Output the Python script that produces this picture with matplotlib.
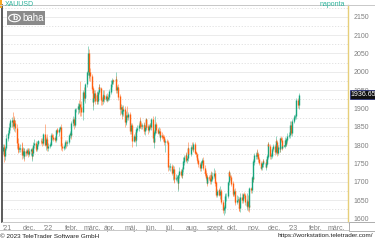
import numpy as np
import pandas as pd
import matplotlib
matplotlib.use('Agg')
import matplotlib.pyplot as plt
import matplotlib.dates as mdates
from matplotlib.patches import FancyBboxPatch, Circle, Rectangle
from matplotlib.lines import Line2D

plt.rcParams['font.family'] = ['Liberation Sans', 'DejaVu Sans']

# XAUUSD daily closes, one list per month (business days)
nov21 = [1793, 1788, 1769, 1792, 1818, 1824, 1832, 1849, 1862, 1864, 1867, 1851, 1868, 1860, 1846, 1805, 1790, 1788, 1790, 1792, 1785, 1774]
dec21 = [1782, 1769, 1783, 1779, 1785, 1783, 1775, 1783, 1787, 1771, 1777, 1799, 1804, 1791, 1789, 1803, 1809, 1811, 1811, 1810, 1805, 1815, 1829]
jan22 = [1801, 1815, 1810, 1791, 1797, 1801, 1821, 1826, 1821, 1817, 1818, 1813, 1841, 1839, 1835, 1843, 1848, 1820, 1797, 1791, 1797]
feb22 = [1801, 1807, 1805, 1808, 1821, 1826, 1833, 1827, 1859, 1870, 1855, 1871, 1898, 1898, 1906, 1898, 1910, 1904, 1889, 1909]
mar22 = [1943, 1928, 1935, 1966, 1998, 2051, 1992, 1998, 1988, 1954, 1918, 1927, 1942, 1921, 1936, 1921, 1944, 1958, 1954, 1922, 1919, 1933, 1937]
apr22 = [1925, 1932, 1923, 1925, 1931, 1946, 1954, 1966, 1977, 1974, 1975, 1979, 1950, 1958, 1951, 1932, 1898, 1904, 1886, 1894, 1897]
may22 = [1863, 1868, 1881, 1876, 1883, 1855, 1838, 1853, 1822, 1811, 1824, 1815, 1816, 1842, 1846, 1853, 1866, 1853, 1851, 1853, 1855, 1837]
jun22 = [1848, 1869, 1850, 1841, 1852, 1853, 1848, 1871, 1819, 1809, 1834, 1857, 1840, 1839, 1833, 1838, 1822, 1827, 1823, 1820, 1818, 1807]
jul22 = [1811, 1808, 1764, 1739, 1740, 1742, 1733, 1725, 1735, 1711, 1708, 1709, 1711, 1696, 1718, 1727, 1719, 1717, 1735, 1755, 1766]
aug22 = [1772, 1760, 1765, 1791, 1775, 1789, 1794, 1792, 1789, 1802, 1779, 1775, 1761, 1758, 1747, 1736, 1748, 1751, 1758, 1737, 1725, 1723, 1711]
sep22 = [1697, 1712, 1710, 1701, 1718, 1708, 1716, 1724, 1702, 1697, 1665, 1675, 1676, 1664, 1673, 1671, 1644, 1622, 1629, 1660, 1660, 1661]
oct22 = [1699, 1725, 1716, 1712, 1695, 1668, 1666, 1673, 1666, 1644, 1650, 1652, 1629, 1627, 1657, 1649, 1652, 1665, 1663, 1645, 1633]
nov22 = [1647, 1635, 1630, 1681, 1676, 1712, 1706, 1755, 1771, 1771, 1777, 1774, 1761, 1751, 1738, 1740, 1749, 1755, 1754, 1741, 1749, 1768]
dec22 = [1803, 1797, 1769, 1771, 1786, 1789, 1797, 1781, 1810, 1807, 1777, 1793, 1788, 1817, 1814, 1792, 1797, 1798, 1813, 1804, 1815, 1824]
jan23 = [1826, 1840, 1855, 1834, 1866, 1872, 1877, 1878, 1898, 1921, 1909, 1936.65]

# upper / lower shadow lengths above and below the body
up_wick = [10, 8, 14, 6, 12, 8, 10, 12, 6, 8, 10, 24, 6, 10, 8, 12, 14, 8, 6, 12, 16, 20,
           12, 10, 8, 6, 8, 6, 10, 8, 6, 8, 14, 10, 12, 8, 6, 8, 6, 4, 4, 8, 8, 6, 4,
           28, 6, 16, 12, 8, 6, 4, 6, 8, 8, 4, 6, 4, 6, 8, 6, 4, 8, 6, 8, 4,
           6, 8, 6, 6, 4, 4, 4, 10, 6, 10, 6, 6, 4, 4, 8, 16, 6, 64, 16, 12,
           8, 14, 6, 4, 4, 20, 10, 22, 12, 6, 8, 24, 8, 8, 12, 8, 6, 8, 8, 4, 10, 6, 12,
           14, 8, 10, 6, 8, 6, 6, 12, 6, 4, 2, 19, 8, 6, 8, 8, 6, 8, 6, 10, 12,
           10, 8, 12, 26, 8, 6, 8, 6, 8, 10, 6, 12, 6, 6, 8, 6, 4, 10, 6, 6, 6, 8,
           6, 4, 6, 6, 4, 6, 8, 4, 8, 6, 6, 22, 6, 6, 8, 10, 8, 4, 8, 6, 6, 4,
           6, 6, 6, 4, 6, 8, 6, 8, 10, 8, 6, 12, 6, 6, 4, 12, 8, 4, 4, 12, 6,
           6, 8, 6, 4, 18, 6, 6, 14, 8, 6, 6, 6, 4, 6, 6, 6, 8, 6, 6, 10, 8, 8, 8,
           6, 6, 6, 10, 8, 12, 10, 12, 8, 6, 6, 6, 4, 6, 16, 8, 6, 6, 8, 6, 8, 8,
           4, 4, 6, 6, 6, 6, 8, 6, 10, 8, 14, 8, 6, 8, 12, 12, 6, 4, 6, 6, 8,
           22, 16, 6, 4, 4, 4, 14, 6, 8, 10, 10, 12, 6, 6, 6, 10, 6, 6, 6, 8, 14, 8,
           4, 4, 6, 8, 4, 6, 6, 6, 14, 6, 6, 6, 6, 4, 8, 8, 6, 2, 10, 6, 4, 8,
           10, 10, 10, 10, 4, 10, 6, 8, 10, 6, 8, 6]
down_wick = [8, 10, 16, 10, 6, 6, 8, 6, 8, 10, 14, 8, 12, 8, 10, 14, 8, 10, 8, 8, 10, 12,
             10, 12, 8, 8, 6, 8, 8, 6, 10, 10, 14, 6, 6, 8, 6, 6, 6, 4, 4, 6, 8, 6, 6,
             4, 14, 6, 6, 8, 6, 4, 8, 6, 6, 4, 6, 6, 6, 6, 10, 6, 8, 10, 6, 4,
             8, 6, 12, 8, 6, 6, 6, 10, 6, 6, 10, 6, 6, 8, 12, 10, 8, 24, 10, 20,
             6, 8, 12, 8, 8, 8, 16, 10, 14, 12, 12, 23, 8, 10, 10, 8, 8, 6, 8, 14, 10, 6, 8,
             8, 6, 6, 4, 6, 8, 6, 6, 8, 8, 2, 8, 8, 8, 8, 10, 16, 10, 14, 6, 14,
             14, 8, 12, 8, 8, 8, 8, 8, 6, 16, 4, 6, 18, 6, 6, 8, 6, 6, 6, 6, 6, 6,
             10, 6, 6, 10, 6, 6, 4, 8, 12, 4, 18, 6, 6, 6, 4, 6, 6, 10, 6, 8, 6, 8,
             26, 6, 4, 10, 6, 10, 8, 6, 20, 14, 10, 6, 6, 16, 22, 8, 6, 6, 8, 8, 10,
             10, 6, 10, 8, 10, 4, 8, 6, 8, 6, 4, 8, 4, 8, 6, 8, 6, 6, 6, 6, 6, 8, 6,
             10, 4, 6, 8, 6, 6, 6, 6, 6, 8, 6, 6, 8, 4, 10, 10, 6, 8, 12, 14, 18, 12,
             6, 8, 6, 8, 8, 8, 6, 6, 24, 8, 6, 6, 8, 8, 10, 6, 6, 6, 8, 8, 6,
             10, 16, 14, 6, 8, 6, 8, 6, 10, 8, 10, 6, 6, 6, 6, 4, 8, 8, 4, 4, 8, 4,
             6, 6, 6, 6, 6, 6, 6, 8, 6, 10, 6, 4, 6, 6, 6, 6, 4, 2, 6, 8, 6, 8,
             6, 8, 6, 8, 10, 6, 10, 6, 8, 6, 8, 10]

month_starts = ['2021-11-01', '2021-12-01', '2022-01-01', '2022-02-01', '2022-03-01', '2022-04-01',
                '2022-05-01', '2022-06-01', '2022-07-01', '2022-08-01', '2022-09-01', '2022-10-01',
                '2022-11-01', '2022-12-01', '2023-01-01', '2023-02-01', '2023-03-01']
month_labels = ["'21", 'dec.', "'22", 'febr.', 'márc.', 'ápr.', 'máj.', 'jún.', 'júl.', 'aug.',
                'szept.', 'okt.', 'nov.', 'dec.', "'23", 'febr.', 'márc.']
y_ticks = [1600, 1650, 1700, 1750, 1800, 1850, 1900, 1950, 2000, 2050, 2100, 2150]
first_open = 1783
last_price = 1936.65

monthly = [nov21, dec21, jan22, feb22, mar22, apr22, may22, jun22, jul22, aug22,
           sep22, oct22, nov22, dec22, jan23]

dates = []
for start, vals in zip(month_starts, monthly):
    dates += list(pd.bdate_range(start, periods=len(vals)))
close = np.array(sum(monthly, []), dtype=float)
opn = np.concatenate([[first_open], close[:-1]])
high = np.maximum(opn, close) + np.array(up_wick)
low = np.minimum(opn, close) - np.array(down_wick)
x = mdates.date2num(dates)

up_col = '#17a57c'
dn_col = '#ff5f0f'
cols = np.where(close >= opn, up_col, dn_col)

W, H = 375, 240
fig = plt.figure(figsize=(3.75, 2.40), dpi=100)
ax = fig.add_axes([2 / W, 18 / H, 346 / W, 217 / H])

# grid: solid at 50s, dotted between
for v in range(1575, 2200, 25):
    if v % 50 == 0:
        ax.axhline(v, color='#ebebeb', lw=0.7, zorder=0)
    else:
        ax.axhline(v, color='#dedede', lw=0.6, ls=(0, (1.5, 2)), zorder=0)

ax.vlines(x, low, high, colors=cols, lw=0.7, alpha=0.45, zorder=2)
body_lo = np.minimum(opn, close)
body_hi = np.maximum(opn, close) + 0.8
ax.vlines(x, body_lo, body_hi, colors=cols, lw=1.0, zorder=3)

x0 = mdates.date2num(pd.Timestamp('2021-10-30 12:00'))
ax.set_xlim(x0, x0 + 516.7)
ax.set_ylim(1590, 2182)

ax.set_xticks([])
ax.yaxis.tick_right()
ax.set_yticks(y_ticks)
ax.set_yticklabels([str(v) for v in y_ticks])
ax.tick_params(axis='y', length=0, pad=4, labelsize=5, labelcolor='#808080')

for s in ['top', 'bottom']:
    ax.spines[s].set_color('#c8c8c8')
    ax.spines[s].set_linewidth(0.7)
ax.spines['left'].set_color('#404040')
ax.spines['left'].set_linestyle((0, (1, 1)))
ax.spines['left'].set_linewidth(1.2)
ax.spines['right'].set_color('#e6cf7a')
ax.spines['right'].set_linestyle((0, (1, 1)))
ax.spines['right'].set_linewidth(1.0)

# month labels under the plot
for d, lab in zip(month_starts, month_labels):
    xp = mdates.date2num(pd.Timestamp(d))
    ax.text(xp, -0.012, lab, transform=ax.get_xaxis_transform(), ha='left', va='top',
            fontsize=5, color='#808080')

# current price box
ax.text(1.008, last_price, '1936.65', transform=ax.get_yaxis_transform(), ha='left',
        va='center', fontsize=5, color='white', zorder=10,
        bbox=dict(boxstyle='square,pad=0.15', fc='#111111', ec='#1a237e', lw=0.5))


def px(xp, yp):
    return xp / W, 1 - yp / H


# frame lines outside the axes
fig.add_artist(Line2D([0, 1], [1 - 4.5 / H, 1 - 4.5 / H], color='#c8c8c8', lw=0.7))
fig.add_artist(Line2D([0, 348 / W], [1 - 229.5 / H, 1 - 229.5 / H], color='#c8c8c8', lw=0.7))
fig.add_artist(Rectangle(px(349, 231), 25.5 / W, 9 / H, fill=False, ec='#a0a0a0', lw=0.6))
fig.add_artist(Line2D([374.5 / W, 374.5 / W], [1 - 222 / H, 1 - 5 / H], color='#1a237e', lw=0.6))
fig.add_artist(Rectangle(px(0, 8), 2.2 / W, 8 / H, color='#f5a623', lw=0))

fig.text(*px(5, 4.5), 'XAUUSD', fontsize=5, color='#2bb39b', ha='left', va='center')
fig.text(*px(345, 4.5), 'naponta', fontsize=5, color='#2bb39b', ha='right', va='center')

# baha logo
fig.add_artist(FancyBboxPatch(px(7, 25), 38 / W, 14 / H, boxstyle='square,pad=0',
                              fc='#8a8a8a', ec='none'))
fig.add_artist(Circle(px(14.5, 18), 0.0155, transform=fig.transFigure, fill=False,
                      ec='white', lw=0.8))
fig.text(*px(14.5, 18), 'b', fontsize=6, color='white', ha='center', va='center',
         fontweight='bold')
fig.text(*px(22, 18), 'baha', fontsize=7, color='white', ha='left', va='center')

fig.text(*px(0.5, 236), '© 2023 TeleTrader Software GmbH', fontsize=4.6, color='#202020',
         ha='left', va='center')
fig.text(*px(373.5, 236), 'https://workstation.teletrader.com/', fontsize=4.6, color='#202020',
         ha='right', va='center')

fig.savefig('out.png', dpi=100)
